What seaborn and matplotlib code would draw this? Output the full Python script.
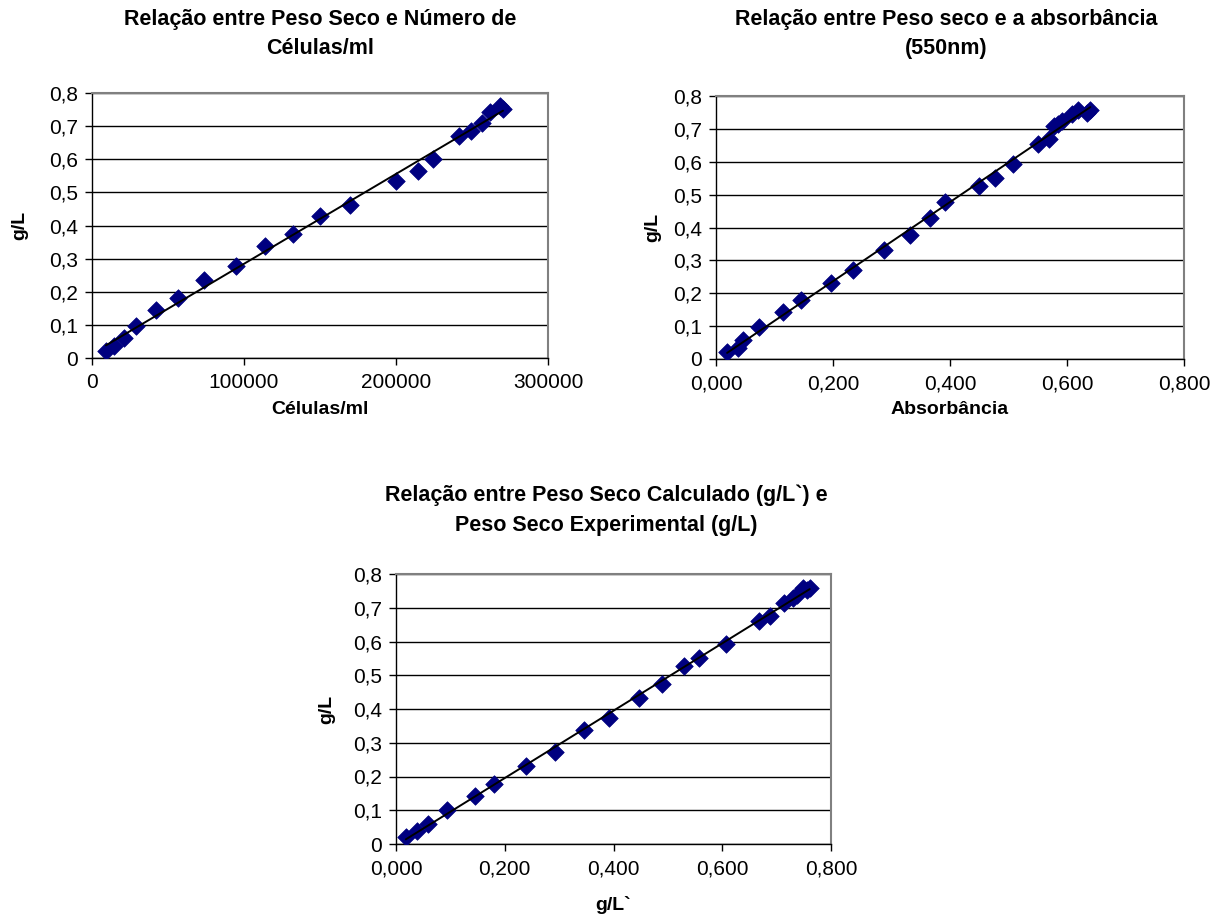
import numpy as np
import pandas as pd
import matplotlib
matplotlib.use("Agg")
import matplotlib.pyplot as plt
from matplotlib.ticker import FuncFormatter, MultipleLocator
import seaborn as sns

# Dry weight (g/L) versus cell count (cells/ml)
celulas = [9200, 14250, 21270, 28950, 41900, 56600, 73900, 95000, 113600, 132000,
           150200, 169900, 200200, 214500, 224100, 241400, 249100, 256800, 262000,
           268600, 270400]
peso_celulas = [0.022, 0.035, 0.059, 0.096, 0.144, 0.180, 0.234, 0.277, 0.337, 0.373,
                0.428, 0.463, 0.535, 0.565, 0.602, 0.669, 0.684, 0.709, 0.744,
                0.760, 0.752]

# Dry weight (g/L) versus absorbance at 550 nm
absorbancia = [0.019, 0.038, 0.047, 0.074, 0.115, 0.146, 0.197, 0.235, 0.288, 0.331,
               0.365, 0.391, 0.450, 0.477, 0.508, 0.551, 0.569, 0.578, 0.585, 0.592,
               0.609, 0.619, 0.634, 0.640]
peso_absorbancia = [0.022, 0.033, 0.059, 0.096, 0.144, 0.180, 0.230, 0.271, 0.333, 0.376,
                    0.430, 0.478, 0.527, 0.551, 0.593, 0.655, 0.670, 0.708, 0.716, 0.724,
                    0.745, 0.757, 0.749, 0.757]

# Calculated versus experimental dry weight
peso_calculado = [0.018, 0.039, 0.058, 0.094, 0.145, 0.181, 0.239, 0.293, 0.345, 0.391,
                  0.447, 0.490, 0.530, 0.558, 0.606, 0.668, 0.687, 0.714, 0.731, 0.737,
                  0.749, 0.755, 0.761]
peso_experimental = [0.022, 0.040, 0.059, 0.100, 0.141, 0.178, 0.230, 0.273, 0.337, 0.373,
                     0.433, 0.474, 0.528, 0.551, 0.593, 0.660, 0.675, 0.714, 0.729, 0.739,
                     0.760, 0.752, 0.758]

titulos = ["Relação entre Peso Seco e Número de\nCélulas/ml",
           "Relação entre Peso seco e a absorbância\n(550nm)",
           "Relação entre Peso Seco Calculado (g/L`) e\nPeso Seco Experimental (g/L)"]
rotulos_x = ["Células/ml", "Absorbância", "g/L`"]
rotulo_y = "g/L"

sns.set_style("white")
plt.rcParams["font.family"] = ["Liberation Sans", "DejaVu Sans"]
plt.rcParams.update({"text.color": "black", "axes.labelcolor": "black",
                     "xtick.color": "black", "ytick.color": "black"})

W, H = 1226, 923
fig = plt.figure(figsize=(W / 100, H / 100), dpi=100)


def px_axes(left, top, right, bottom):
    return fig.add_axes([left / W, 1 - bottom / H, (right - left) / W, (bottom - top) / H])


def fmt_y(v, _):
    return "0" if abs(v) < 1e-9 else f"{v:.1f}".replace(".", ",")


def fmt_dec(v, _):
    return f"{v:.3f}".replace(".", ",")


def draw(box, df, xmax, xstep, xfmt, title, title_xy, xlabel, xlabel_y, ylabel_x):
    left, top, right, bottom = box
    ax = px_axes(left, top, right, bottom)
    sns.regplot(data=df, x="x", y="y", ax=ax, ci=None, truncate=True, marker="D",
                scatter_kws=dict(color="#000080", s=80, edgecolor="#000080", linewidths=0.5,
                                 alpha=1, zorder=3),
                line_kws=dict(color="black", lw=1.4, zorder=4))
    ax.set_xlim(0, xmax)
    ax.set_ylim(0, 0.8)
    ax.yaxis.set_major_locator(MultipleLocator(0.1))
    ax.xaxis.set_major_locator(MultipleLocator(xstep))
    ax.yaxis.set_major_formatter(FuncFormatter(fmt_y))
    if xfmt == "int":
        ax.xaxis.set_major_formatter(FuncFormatter(lambda v, _: f"{v:.0f}"))
    else:
        ax.xaxis.set_major_formatter(FuncFormatter(fmt_dec))
    ax.grid(axis="y", color="#000000", lw=1.0)
    ax.set_axisbelow(True)
    for side in ("top", "right"):
        ax.spines[side].set_color("#808080")
        ax.spines[side].set_linewidth(1.5)
    for side in ("left", "bottom"):
        ax.spines[side].set_color("#000000")
        ax.spines[side].set_linewidth(1.0)
    ax.tick_params(axis="both", which="major", direction="out", length=5, width=1,
                   color="black", labelcolor="black", labelsize=15, pad=5,
                   left=True, bottom=True)
    ax.tick_params(axis="x", pad=6)
    w, h = right - left, bottom - top
    ax.set_xlabel(xlabel, fontsize=14, fontweight="bold", va="center", color="black")
    ax.xaxis.set_label_coords(0.5, -(xlabel_y - bottom) / h)
    ax.set_ylabel(rotulo_y, fontsize=14, fontweight="bold", va="center", color="black")
    ax.yaxis.set_label_coords(-(left - ylabel_x) / w, 0.5)
    fig.text(title_xy[0] / W, 1 - title_xy[1] / H, title, ha="center", va="center",
             fontsize=15.5, fontweight="bold", linespacing=1.55, color="black")
    return ax


draw((92, 93, 548, 358), pd.DataFrame({"x": celulas, "y": peso_celulas}),
     300000, 100000, "int", titulos[0], (320, 34), rotulos_x[0], 409, 20)

draw((716, 96, 1184, 359), pd.DataFrame({"x": absorbancia, "y": peso_absorbancia}),
     0.8, 0.2, "dec", titulos[1], (946, 34), rotulos_x[1], 409, 653)

draw((396, 574, 831, 844), pd.DataFrame({"x": peso_calculado, "y": peso_experimental}),
     0.8, 0.2, "dec", titulos[2], (606, 510), rotulos_x[2], 905, 327)

fig.savefig("out.png", dpi=100, facecolor="white")
